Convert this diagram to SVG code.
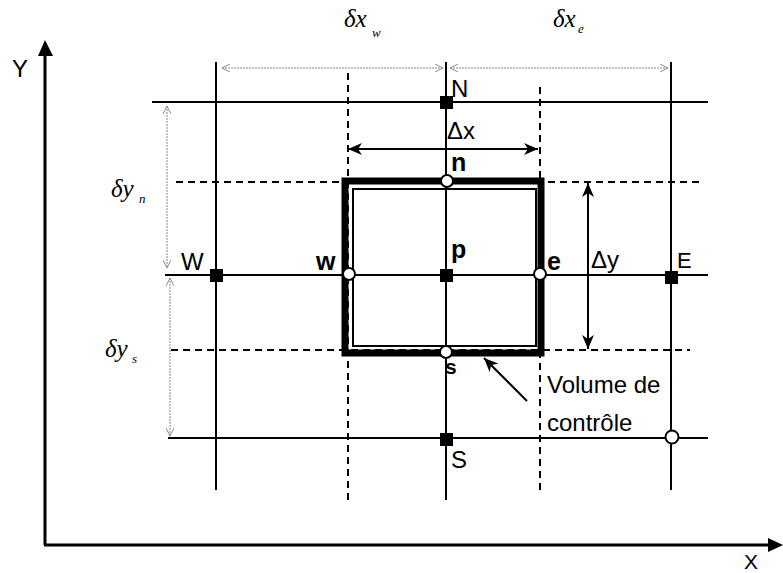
<svg xmlns="http://www.w3.org/2000/svg" width="783" height="573" viewBox="0 0 783 573">
<defs>
<style>
.ax{stroke:#000;stroke-width:3;fill:none}
.ln{stroke:#000;stroke-width:2;fill:none}
.ds{stroke:#000;stroke-width:2;fill:none;stroke-dasharray:7,5}
.dim{stroke:#888;stroke-width:1;fill:none;stroke-dasharray:2,1}
.arr{stroke:#000;stroke-width:2;fill:none}
.lbl{font-family:"Liberation Sans",Arial,sans-serif;font-size:24px;fill:#000}
.bl{font-family:"Liberation Sans",Arial,sans-serif;font-size:25px;font-weight:bold;fill:#000}
.gr{font-family:"Liberation Serif","Times New Roman",serif;font-style:italic;font-size:25px;fill:#000}
.sub{font-family:"Liberation Serif","Times New Roman",serif;font-style:italic;font-size:13px;fill:#000}
.sq{fill:#000}
.ci{fill:#fff;stroke:#000;stroke-width:2}
</style>
<marker id="open" viewBox="0 0 10 10" refX="10" refY="5" markerWidth="8" markerHeight="8" markerUnits="userSpaceOnUse" orient="auto-start-reverse">
<path d="M0,0 L10,5 L0,10" fill="none" stroke="#888" stroke-width="1.2"/>
</marker>
<marker id="barb" viewBox="0 0 14 12" refX="14" refY="6" markerWidth="14" markerHeight="12" markerUnits="userSpaceOnUse" orient="auto-start-reverse">
<path d="M0,0 L14,6 L0,12 L4,6 Z" fill="#000"/>
</marker>
</defs>

<g id="axes">
<line class="ax" x1="45" y1="545" x2="45" y2="52"/>
<polygon points="45,40 38,56 53,56" fill="#000"/>
<line class="ax" x1="44" y1="545" x2="771" y2="545"/>
<polygon points="783,545 768,538 768,552" fill="#000"/>
<text class="lbl" x="12" y="77">Y</text>
<text class="lbl" x="744" y="569" style="font-size:21px">X</text>
</g>

<g id="connectors">
<line class="ln" x1="152" y1="102" x2="708" y2="102"/>
<line class="ln" x1="165" y1="275" x2="708" y2="275"/>
<line class="ln" x1="168" y1="438" x2="708" y2="438"/>
<line class="ln" x1="216" y1="62" x2="216" y2="490"/>
<line class="ln" x1="446" y1="62" x2="446" y2="500"/>
<line class="ln" x1="671" y1="62" x2="671" y2="490"/>
<line class="ds" x1="176" y1="182" x2="700" y2="182"/>
<line class="ds" x1="171" y1="350" x2="690" y2="350"/>
<line class="ds" x1="348" y1="73" x2="348" y2="500"/>
<line class="ds" x1="540" y1="87" x2="540" y2="495"/>
<line class="dim" x1="222" y1="68" x2="443" y2="68" marker-start="url(#open)" marker-end="url(#open)"/>
<line class="dim" x1="450" y1="68" x2="668" y2="68" marker-start="url(#open)" marker-end="url(#open)"/>
<line class="dim" x1="167" y1="106" x2="167" y2="268" marker-start="url(#open)" marker-end="url(#open)"/>
<line class="dim" x1="170" y1="278" x2="170" y2="436" marker-start="url(#open)" marker-end="url(#open)"/>
<line class="arr" x1="348" y1="149" x2="538" y2="149" marker-start="url(#barb)" marker-end="url(#barb)"/>
<line class="arr" x1="588" y1="183" x2="588" y2="349" marker-start="url(#barb)" marker-end="url(#barb)"/>
<line class="arr" x1="527" y1="401" x2="484" y2="358" marker-end="url(#barb)"/>
</g>

<g id="control-volume">
<rect x="345" y="181" width="196" height="172" fill="none" stroke="#000" stroke-width="7"/>
<rect x="353" y="189" width="183" height="157" fill="none" stroke="#000" stroke-width="2"/>
</g>

<g id="node-N"><rect class="sq" x="440" y="96" width="13" height="13"/><text class="lbl" x="451" y="97">N</text></g>
<g id="node-W"><rect class="sq" x="210" y="269" width="13" height="13"/><text class="lbl" x="181" y="270">W</text></g>
<g id="node-E"><rect class="sq" x="665" y="271" width="13" height="13"/><text class="lbl" x="677" y="268" style="font-size:22px">E</text></g>
<g id="node-S"><rect class="sq" x="440" y="433" width="13" height="13"/><text class="lbl" x="451" y="468">S</text></g>
<g id="node-p"><rect class="sq" x="440" y="269" width="13" height="13"/><text class="bl" x="451" y="258">p</text></g>
<g id="node-n"><circle class="ci" cx="447" cy="181" r="6"/><text class="bl" x="451" y="171">n</text></g>
<g id="node-s"><circle class="ci" cx="446" cy="352" r="6"/><text class="bl" x="445" y="374" style="font-size:21px">s</text></g>
<g id="node-w"><circle class="ci" cx="349" cy="274" r="6"/><text class="bl" x="316" y="270">w</text></g>
<g id="node-e"><circle class="ci" cx="540" cy="274" r="6"/><text class="bl" x="547" y="270">e</text></g>
<g id="node-corner"><circle class="ci" cx="672" cy="437" r="6.5"/></g>

<g id="labels">
<text class="lbl" x="447" y="139">Δx</text>
<text class="lbl" x="591" y="268">Δy</text>
<text class="lbl" x="547" y="393">Volume de</text>
<text class="lbl" x="547" y="431">contrôle</text>
<text class="gr" x="344" y="27">δx</text><text class="sub" x="372" y="37">w</text>
<text class="gr" x="553" y="27">δx</text><text class="sub" x="578" y="33">e</text>
<text class="gr" x="111" y="197">δy</text><text class="sub" x="139" y="203">n</text>
<text class="gr" x="105" y="357">δy</text><text class="sub" x="132" y="363">s</text>
</g>
</svg>
